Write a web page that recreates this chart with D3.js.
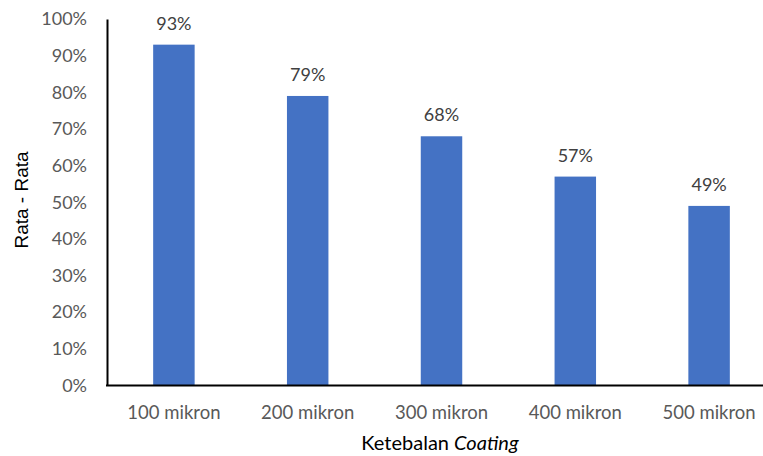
<!DOCTYPE html>
<html>
<head>
  <meta charset="utf-8">
  <style>
  body { margin: 0; background: #fff; }
  svg { font-family: Lato, "Open Sans", sans-serif; }
  .tick text { fill: #595959; font-size: 18px; font-family: Lato, "Open Sans", sans-serif; }
  .x-axis .tick text { font-size: 18.5px; }
  </style>
</head>
<body>
  <svg width="763" height="456"></svg>
  <script src="https://d3js.org/d3.v7.min.js"></script>
  <script>
  var categories = ["100 mikron", "200 mikron", "300 mikron", "400 mikron", "500 mikron"];
  var values = [0.93, 0.79, 0.68, 0.57, 0.49];
  var yTicks = [0, 0.1, 0.2, 0.3, 0.4, 0.5, 0.6, 0.7, 0.8, 0.9, 1.0];

  var svg = d3.select("svg");
  var plotLeft = 107, plotRight = 776, plotTop = 19, plotBottom = 385.5;

  var x = d3.scaleBand().domain(categories).range([plotLeft, plotRight]).paddingInner(0.69).paddingOuter(0.345);
  var y = d3.scaleLinear().domain([0, 1]).range([plotBottom, plotTop]);

  // bars
  svg.selectAll(".bar")
    .data(values)
    .enter()
    .append("rect")
    .attr("class", "bar")
    .attr("x", function(d, i) { return x(categories[i]); })
    .attr("y", function(d) { return y(d); })
    .attr("width", x.bandwidth())
    .attr("height", function(d) { return plotBottom - y(d); })
    .attr("fill", "#4472c4");

  // value labels
  svg.selectAll(".lbl")
    .data(values)
    .enter()
    .append("text")
    .attr("class", "lbl")
    .attr("x", function(d, i) { return x(categories[i]) + x.bandwidth() / 2; })
    .attr("y", function(d) { return y(d) - 15; })
    .attr("text-anchor", "middle")
    .attr("fill", "#404040")
    .attr("font-size", "18px")
    .text(function(d) { return d3.format(".0%")(d); });

  // y axis
  var yAxis = svg.append("g")
    .attr("transform", "translate(" + plotLeft + ",0)")
    .call(d3.axisLeft(y).tickValues(yTicks).tickFormat(d3.format(".0%")).tickSize(0).tickPadding(20));
  yAxis.select(".domain").attr("stroke", "#000").attr("stroke-width", 2);

  // x axis
  var xAxis = svg.append("g")
    .attr("class", "x-axis")
    .attr("transform", "translate(0," + plotBottom + ")")
    .call(d3.axisBottom(x).tickSize(0).tickPadding(20));
  xAxis.select(".domain").remove();
  svg.append("line")
    .attr("x1", plotLeft - 1).attr("x2", 763)
    .attr("y1", plotBottom).attr("y2", plotBottom)
    .attr("stroke", "#000").attr("stroke-width", 2);

  // axis titles
  var xt = svg.append("text")
    .attr("x", 440).attr("y", 450)
    .attr("text-anchor", "middle")
    .attr("font-size", "20px")
    .attr("fill", "#000");
  xt.append("tspan").text("Ketebalan ");
  xt.append("tspan").attr("font-style", "italic").text("Coating");

  svg.append("text")
    .attr("transform", "translate(28,200) rotate(-90)")
    .attr("text-anchor", "middle")
    .attr("font-family", "'Liberation Sans', Arial, sans-serif")
    .attr("font-size", "19px")
    .attr("fill", "#000")
    .text("Rata - Rata");
  </script>
</body>
</html>
